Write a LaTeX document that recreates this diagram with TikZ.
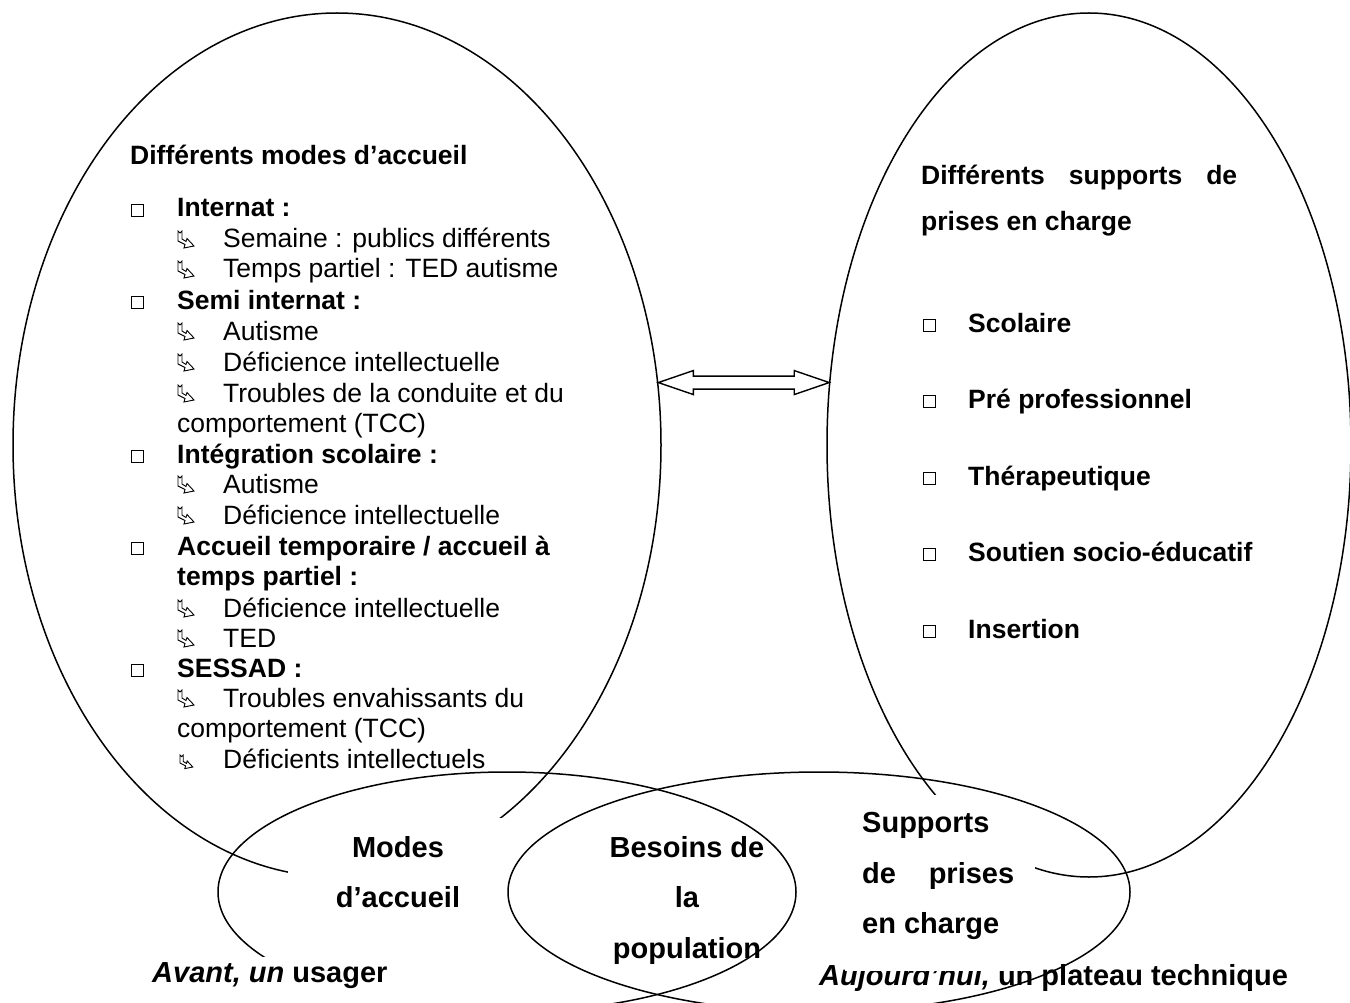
\documentclass[tikz,border=0pt]{standalone}
\usepackage{fontspec}
\setmainfont{Liberation Sans}
\usetikzlibrary{shapes.geometric,calc}
\begin{document}
\begin{tikzpicture}[x=1pt,y=-1pt,
  oval/.style={draw, ellipse, inner sep=0pt, line width=1.5pt},
  txt/.style={anchor=base west, inner sep=0pt, font=\fontsize{26.5}{31}\selectfont},
  btxt/.style={anchor=base west, inner sep=0pt, font=\fontsize{26.5}{31}\selectfont\bfseries},
  bigtxt/.style={anchor=base, inner sep=0pt, font=\fontsize{29}{34}\selectfont\bfseries},
  bigtxtw/.style={anchor=base west, inner sep=0pt, font=\fontsize{29}{34}\selectfont\bfseries},
  sq/.style={draw, line width=1.1pt, minimum size=12pt, inner sep=0pt},
  dblarrow/.style={draw, fill=white, line width=1.4pt, line join=miter},
  ribbon/.pic={\draw[line width=0.9pt, fill=white, line join=miter]
     (0,0) -- (2,2) -- (4,0) -- (4,8) -- (8,10.5) -- (9,7.5) -- (16,15)
     -- (6,17) -- (7,13.5) -- (0,10) -- cycle;}
]
\useasboundingbox (0,0) rectangle (1350,1003);
\clip (0,0) rectangle (1350,1003);

% big ellipses
\node[oval, minimum width=648pt, minimum height=864pt] (L) at (337,445) {};
\node[oval, minimum width=524pt, minimum height=864pt] (R) at (1089,445) {};

% bottom-right caption (partly covered)
\node[bigtxtw] (auj) at (819,985) {\textit{Aujourd’hui,} un plateau technique};

% white text boxes
\fill[white] (288,818) rectangle (503,935);
\fill[white] (845,795) rectangle (1035,971);

% lower ellipses
\node[oval, minimum width=578pt, minimum height=240pt] (LL) at (507,892) {};
\node[oval, minimum width=622pt, minimum height=240pt] (LR) at (819,892) {};

\fill[white] (143,957) rectangle (450,1003);
\node[bigtxtw] (avant) at (152,982) {\textit{Avant, un} usager};

% double arrow between the two big ellipses
\coordinate (ta) at (L.11);
\coordinate (tb) at (R.166.5 |- ta);
\draw[dblarrow] (ta) -- ++(35,-12) -- ++(0,5.5) -- ($(tb)+(-35,-6.5)$) -- ++(0,-5.5)
  -- (tb) -- ++(-35,12) -- ++(0,-5.5) -- ($(ta)+(35,6.5)$) -- ++(0,5.5) -- cycle;

% left ellipse text
\node[btxt] (lt) at (130,165) {Différents modes d’accueil};

\node[sq] (s1) at (137.5,210.5) {};
\node[btxt] (a1) at (177,217) {Internat :};
\pic at (178,231) {ribbon};
\node[txt] (a2) at (223,248) {Semaine : publics différents};
\pic at (178,261) {ribbon};
\node[txt] (a3) at (223,278) {Temps partiel : TED autisme};

\node[sq] (s2) at (137.5,302.5) {};
\node[btxt] (b1) at (177,309) {Semi internat :};
\pic at (178,323) {ribbon};
\node[txt] (b2) at (223,340) {Autisme};
\pic at (178,354) {ribbon};
\node[txt] (b3) at (223,371) {Déficience intellectuelle};
\pic at (178,385) {ribbon};
\node[txt] (b4) at (223,402) {Troubles de la conduite et du};
\node[txt] (b5) at (177,432) {comportement (TCC)};

\node[sq] (s3) at (137.5,456.5) {};
\node[btxt] (c1) at (177,463) {Intégration scolaire :};
\pic at (178,476) {ribbon};
\node[txt] (c2) at (223,493) {Autisme};
\pic at (178,507) {ribbon};
\node[txt] (c3) at (223,524) {Déficience intellectuelle};

\node[sq] (s4) at (137.5,548.5) {};
\node[btxt] (d1) at (177,555) {Accueil temporaire / accueil à};
\node[btxt] (d2) at (177,585) {temps partiel :};
\pic at (178,600) {ribbon};
\node[txt] (d3) at (223,617) {Déficience intellectuelle};
\pic at (178,630) {ribbon};
\node[txt] (d4) at (223,647) {TED};

\node[sq] (s5) at (137.5,670.5) {};
\node[btxt] (e1) at (177,677) {SESSAD :};
\pic at (178,690) {ribbon};
\node[txt] (e2) at (223,707) {Troubles envahissants du};
\node[txt] (e3) at (177,737) {comportement (TCC)};
\pic[scale=0.8] at (180,755) {ribbon};
\node[txt] (e4) at (223,768) {Déficients intellectuels};

% right ellipse text
\node[btxt] (rt1) at (921,185) {\hbox to 316pt{Différents\hfill supports\hfill de}};
\node[btxt] (rt2) at (921,231) {prises en charge};
\node[sq] (r1s) at (929.5,325.5) {};
\node[btxt] (r1) at (968,332) {Scolaire};
\node[sq] (r2s) at (929.5,401.5) {};
\node[btxt] (r2) at (968,408) {Pré professionnel};
\node[sq] (r3s) at (929.5,478.5) {};
\node[btxt] (r3) at (968,485) {Thérapeutique};
\node[sq] (r4s) at (929.5,554.5) {};
\node[btxt] (r4) at (968,561) {Soutien socio-éducatif};
\node[sq] (r5s) at (929.5,631.5) {};
\node[btxt] (r5) at (968,638) {Insertion};

% lower texts
\node[bigtxt] (m1) at (398,857) {Modes};
\node[bigtxt] (m2) at (398,907) {d’accueil};
\node[bigtxt] (n1) at (687,857) {Besoins de};
\node[bigtxt] (n2) at (687,907) {la};
\node[bigtxt] (n3) at (687,958) {population};
\node[bigtxtw] (p1) at (862,832) {Supports};
\node[bigtxtw] (p2) at (862,883) {\hbox to 152pt{de\hfill prises}};
\node[bigtxtw] (p3) at (862,933) {en charge};
\end{tikzpicture}
\end{document}
